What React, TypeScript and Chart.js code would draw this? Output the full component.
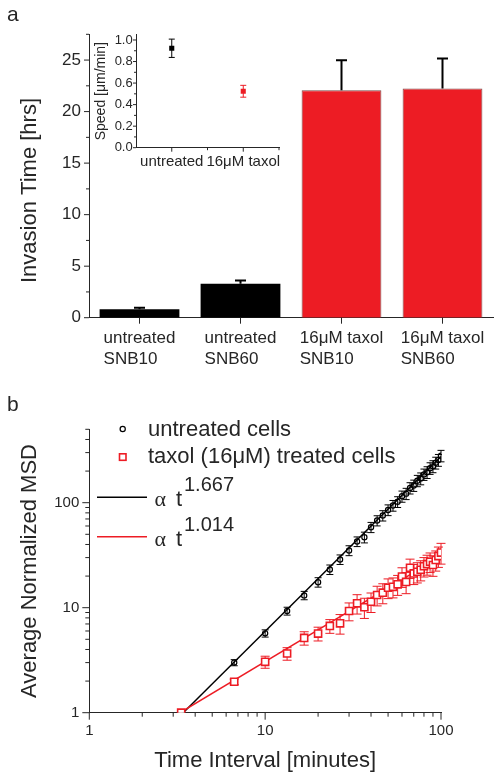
import React, { useEffect, useRef } from 'react';
import { Chart, registerables } from 'chart.js';

Chart.register(...registerables);

const SANS = '"Liberation Sans", Arial, Helvetica, sans-serif';
const SERIF = '"Liberation Serif", "Times New Roman", Times, serif';
const INK = '#262626';
const RED = '#ed1c24';

// ---------- panel a: invasion time ----------
const barLabels = [
  ['untreated', 'SNB10'],
  ['untreated', 'SNB60'],
  ['16μM taxol', 'SNB10'],
  ['16μM taxol', 'SNB60'],
];
const invasionHours = [0.81, 3.3, 22.06, 22.25];
const invasionErrUp = [0.16, 0.32, 2.91, 2.91];
const barColors = ['#000000', '#000000', RED, RED];
const barBorders = [0, 0, 1, 1];
const invasionTicks = [0, 5, 10, 15, 20, 25];
const invasionMinorTicks = [2.5, 7.5, 12.5, 17.5, 22.5, 27.5];

// ---------- inset: speed ----------
const insetLabels = ['untreated', '16μM taxol'];
const insetPositions = [1, 2];
const insetSpeed = [0.923, 0.524];
const insetSpeedErr = [0.085, 0.055];
const insetColors = ['#000000', RED];
const insetTicks = [0, 0.2, 0.4, 0.6, 0.8, 1.0];
const insetMinorTicks = [0.1, 0.3, 0.5, 0.7, 0.9];
const insetMinorX = [1.5, 2.5];

// ---------- panel b: MSD ----------
const timeInterval = [3.33, 6.67, 10, 13.33, 16.67, 20, 23.33, 26.67, 30, 33.33, 36.67, 40, 43.33, 46.67, 50, 53.33, 56.67, 60, 63.33, 66.67, 70, 73.33, 76.67, 80, 83.33, 86.67, 90, 93.33, 96.67, 100];
const untreatedMSD = [1.0, 3.0, 5.7, 9.3, 13.1, 17.5, 23.1, 28.8, 35.1, 42.7, 46.9, 58.4, 67.6, 75.4, 85.3, 94, 102, 115, 122, 138, 146, 162, 170, 186, 195, 213, 222, 240, 255, 280];
const untreatedErr = [0, 0.2, 0.45, 0.8, 1.2, 1.8, 2.4, 3.0, 3.8, 4.5, 5.5, 6.5, 7.5, 8.5, 10, 11, 12, 14, 15, 17, 18, 20, 22, 23, 25, 27, 29, 31, 33, 35];
const taxolMSD = [1.0, 1.97, 3.05, 3.66, 5.15, 5.67, 6.7, 7.1, 9.3, 11.0, 10.1, 11.4, 13.2, 13.9, 15.5, 15.8, 16.7, 19.8, 17.6, 24.0, 21.2, 22.0, 23.0, 24.8, 26.0, 27.4, 25.5, 28.5, 31.0, 33.5];
const taxolErr = [0, 0.12, 0.4, 0.5, 0.75, 0.85, 1.0, 1.5, 1.8, 2.3, 2.2, 2.4, 2.8, 3.0, 3.3, 3.4, 3.6, 4.2, 4.0, 5.0, 4.6, 4.8, 5.0, 5.2, 5.6, 5.8, 5.6, 6.2, 6.8, 7.5];
const fitTimeUntreated = [3.42, 100];
const fitUntreated = [1, 275];
const fitTimeTaxol = [3.28, 100];
const fitTaxol = [1, 31];
const logMajor = [1, 10, 100];
const xMinorB = [2, 3, 4, 5, 6, 7, 8, 9, 20, 30, 40, 50, 60, 70, 80, 90];
const yMinorB = [2, 3, 4, 5, 6, 7, 8, 9, 20, 30, 40, 50, 60, 70, 80, 90, 200, 300, 400, 500];

type AxisTicks = { axis: string; major: number[]; minor: number[]; majorLen: number; minorLen: number };

function tickPlugin(id: string, axes: AxisTicks[]) {
  return {
    id,
    afterDraw(chart: any) {
      const ctx = chart.ctx;
      ctx.save();
      ctx.strokeStyle = INK;
      ctx.lineWidth = 1;
      for (const a of axes) {
        const scale = chart.scales[a.axis];
        const draw = (vals: number[], len: number) => {
          for (const v of vals) {
            const p = scale.getPixelForValue(v);
            ctx.beginPath();
            if (scale.isHorizontal()) {
              ctx.moveTo(p, scale.top);
              ctx.lineTo(p, scale.top + len);
            } else {
              ctx.moveTo(scale.right, p);
              ctx.lineTo(scale.right - len, p);
            }
            ctx.stroke();
          }
        };
        draw(a.major, a.majorLen);
        draw(a.minor, a.minorLen);
      }
      ctx.restore();
    },
  };
}

function axisBase(size: number, padding: number) {
  return {
    grid: { display: false, drawTicks: false },
    border: { display: true, color: INK, width: 1 },
    ticks: {
      color: INK,
      font: { family: SANS, size },
      padding,
      autoSkip: false,
      maxRotation: 0,
      minRotation: 0,
    },
  };
}

function makePanelA(canvas: HTMLCanvasElement) {
  const errPlugin = {
    id: 'barErrors',
    afterDatasetsDraw(chart: any) {
      const ctx = chart.ctx;
      const y = chart.scales.y;
      const meta = chart.getDatasetMeta(0);
      ctx.save();
      ctx.strokeStyle = '#000';
      ctx.lineWidth = 2;
      meta.data.forEach((bar: any, i: number) => {
        const top = y.getPixelForValue(invasionHours[i] + invasionErrUp[i]);
        ctx.beginPath();
        ctx.moveTo(bar.x, bar.y);
        ctx.lineTo(bar.x, top);
        ctx.moveTo(bar.x - 5.5, top);
        ctx.lineTo(bar.x + 5.5, top);
        ctx.stroke();
      });
      ctx.restore();
    },
  };
  const textPlugin = {
    id: 'panelAText',
    afterDraw(chart: any) {
      const ctx = chart.ctx;
      const xs = chart.scales.x;
      ctx.save();
      ctx.fillStyle = INK;
      ctx.textAlign = 'left';
      ctx.textBaseline = 'alphabetic';
      ctx.font = `21px ${SANS}`;
      ctx.fillText('a', 7, 20.7);
      // category labels: two lines, left-aligned inside a block centred on the tick
      ctx.font = `17px ${SANS}`;
      barLabels.forEach((lines, i) => {
        const cx = xs.getPixelForValue(i);
        const w = Math.max(...lines.map((l) => ctx.measureText(l).width));
        const left = cx - w / 2;
        lines.forEach((l, j) => ctx.fillText(l, left, 343 + j * 21.2));
      });
      ctx.translate(30, 190.5);
      ctx.rotate(-Math.PI / 2);
      ctx.textAlign = 'center';
      ctx.textBaseline = 'middle';
      ctx.font = `22px ${SANS}`;
      ctx.fillText('Invasion Time [hrs]', 0, 0);
      ctx.restore();
    },
  };
  const xBase = axisBase(17, 8.9);
  const yBase = axisBase(17, 8);
  return new Chart(canvas, {
    type: 'bar',
    data: {
      labels: barLabels,
      datasets: [
        {
          data: invasionHours,
          backgroundColor: barColors,
          borderColor: '#7d4a47',
          borderWidth: barBorders,
          barPercentage: 0.79,
          categoryPercentage: 1,
        },
      ],
    },
    options: {
      responsive: false,
      animation: false,
      events: [],
      layout: { padding: { top: 34.3, right: 9, left: 0, bottom: 0 } },
      plugins: { legend: { display: false }, tooltip: { enabled: false } },
      scales: {
        x: {
          ...xBase,
          ticks: { ...xBase.ticks, display: false },
          afterFit: (s: any) => {
            s.height = 72.3;
          },
        },
        y: {
          ...yBase,
          min: 0,
          max: 27.5,
          afterBuildTicks: (s: any) => {
            s.ticks = invasionTicks.map((v) => ({ value: v }));
          },
          afterFit: (s: any) => {
            s.width = 89;
          },
        },
      },
    } as any,
    plugins: [
      errPlugin,
      textPlugin,
      tickPlugin('ticksA', [
        { axis: 'x', major: [0, 1, 2, 3], minor: [], majorLen: 6, minorLen: 0 },
        { axis: 'y', major: invasionTicks, minor: invasionMinorTicks, majorLen: 5, minorLen: 3 },
      ]),
    ],
  });
}

function makeInset(canvas: HTMLCanvasElement) {
  const errPlugin = {
    id: 'insetErrors',
    beforeDatasetsDraw(chart: any) {
      const ctx = chart.ctx;
      const xs = chart.scales.x;
      const ys = chart.scales.y;
      ctx.save();
      ctx.lineWidth = 1;
      insetPositions.forEach((p, i) => {
        const px = xs.getPixelForValue(p);
        const t = ys.getPixelForValue(insetSpeed[i] + insetSpeedErr[i]);
        const b = ys.getPixelForValue(insetSpeed[i] - insetSpeedErr[i]);
        ctx.strokeStyle = insetColors[i];
        ctx.beginPath();
        ctx.moveTo(px, t);
        ctx.lineTo(px, b);
        ctx.moveTo(px - 3, t);
        ctx.lineTo(px + 3, t);
        ctx.moveTo(px - 3, b);
        ctx.lineTo(px + 3, b);
        ctx.stroke();
      });
      ctx.restore();
    },
  };
  const xBase = axisBase(15, 4.8);
  const yBase = axisBase(13, 3.3);
  return new Chart(canvas, {
    type: 'scatter',
    data: {
      datasets: [
        {
          data: insetPositions.map((x, i) => ({ x, y: insetSpeed[i] })),
          pointStyle: 'rect',
          pointRadius: 3.6,
          backgroundColor: insetColors,
          borderColor: insetColors,
          borderWidth: 0,
        },
      ],
    },
    options: {
      responsive: false,
      animation: false,
      events: [],
      layout: { padding: { top: 19.6, right: 11, left: 0, bottom: 0 } },
      plugins: { legend: { display: false }, tooltip: { enabled: false } },
      scales: {
        x: {
          ...xBase,
          type: 'linear',
          min: 0.5,
          max: 2.5,
          ticks: {
            ...xBase.ticks,
            callback: (v: any) => {
              const k = insetPositions.indexOf(Number(v));
              return k >= 0 ? insetLabels[k] : '';
            },
          },
          afterBuildTicks: (s: any) => {
            s.ticks = insetPositions.map((v) => ({ value: v }));
          },
          afterFit: (s: any) => {
            s.height = 27.3;
          },
        },
        y: {
          ...yBase,
          min: 0,
          max: 1.05,
          ticks: { ...yBase.ticks, callback: (v: any) => Number(v).toFixed(1) },
          title: {
            display: true,
            text: 'Speed [μm/min]',
            color: INK,
            font: { family: SANS, size: 14 },
            padding: { top: 2.7, bottom: 0 },
          },
          afterBuildTicks: (s: any) => {
            s.ticks = insetTicks.map((v) => ({ value: v }));
          },
          afterFit: (s: any) => {
            s.width = 46;
          },
        },
      },
    } as any,
    plugins: [
      errPlugin,
      tickPlugin('ticksInset', [
        { axis: 'x', major: insetPositions, minor: insetMinorX, majorLen: 4, minorLen: 2.5 },
        { axis: 'y', major: insetTicks, minor: insetMinorTicks, majorLen: 3, minorLen: 2 },
      ]),
    ],
  });
}

function makePanelB(canvas: HTMLCanvasElement) {
  const specs = [
    { index: 0, y: taxolMSD, err: taxolErr, color: RED, half: 4.5 },
    { index: 1, y: untreatedMSD, err: untreatedErr, color: '#000000', half: 3.5 },
  ];
  const errPlugin = {
    id: 'msdErrors',
    beforeDatasetDraw(chart: any, args: any) {
      const spec = specs.find((s) => s.index === args.index);
      if (!spec) return;
      const ctx = chart.ctx;
      const xs = chart.scales.x;
      const ys = chart.scales.y;
      ctx.save();
      ctx.strokeStyle = spec.color;
      ctx.lineWidth = 1;
      timeInterval.forEach((t, i) => {
        if (!spec.err[i]) return;
        const px = xs.getPixelForValue(t);
        const top = ys.getPixelForValue(spec.y[i] + spec.err[i]);
        const bot = ys.getPixelForValue(Math.max(spec.y[i] - spec.err[i], 1));
        ctx.beginPath();
        ctx.moveTo(px, top);
        ctx.lineTo(px, bot);
        ctx.moveTo(px - spec.half, top);
        ctx.lineTo(px + spec.half, top);
        ctx.moveTo(px - spec.half, bot);
        ctx.lineTo(px + spec.half, bot);
        ctx.stroke();
      });
      ctx.restore();
    },
  };
  const textPlugin = {
    id: 'panelBText',
    afterDraw(chart: any) {
      const ctx = chart.ctx;
      ctx.save();
      ctx.fillStyle = INK;
      ctx.textAlign = 'left';
      ctx.textBaseline = 'alphabetic';
      ctx.font = `21px ${SANS}`;
      ctx.fillText('b', 7, 20.7);
      // legend symbols
      ctx.strokeStyle = '#000';
      ctx.lineWidth = 1.2;
      ctx.beginPath();
      ctx.arc(122.7, 39, 2.6, 0, Math.PI * 2);
      ctx.stroke();
      ctx.strokeStyle = RED;
      ctx.lineWidth = 1.6;
      ctx.strokeRect(119.5, 63.8, 6.5, 6.5);
      ctx.font = `22px ${SANS}`;
      ctx.fillText('untreated cells', 148, 46);
      ctx.fillText('taxol (16μM) treated cells', 148, 73.3);
      // fit legend
      ctx.lineWidth = 1.5;
      ctx.strokeStyle = '#000';
      ctx.beginPath();
      ctx.moveTo(97, 107.3);
      ctx.lineTo(147, 107.3);
      ctx.stroke();
      ctx.strokeStyle = RED;
      ctx.beginPath();
      ctx.moveTo(97, 146.7);
      ctx.lineTo(147, 146.7);
      ctx.stroke();
      const fitLabel = (exp: string, base: number) => {
        ctx.font = `22px ${SERIF}`;
        ctx.fillText('α', 154.5, base);
        ctx.font = `22px ${SANS}`;
        ctx.fillText('t', 176, base);
        ctx.font = `20px ${SANS}`;
        ctx.fillText(exp, 184, base - 15);
      };
      fitLabel('1.667', 115.7);
      fitLabel('1.014', 155.7);
      ctx.restore();
    },
  };
  const xBase = axisBase(15, 9.1);
  const yBase = axisBase(15, 10);
  return new Chart(canvas, {
    type: 'scatter',
    data: {
      datasets: [
        {
          data: timeInterval.map((x, i) => ({ x, y: taxolMSD[i] })),
          pointStyle: 'rect',
          pointRadius: 5,
          borderColor: RED,
          backgroundColor: '#ffffff',
          borderWidth: 1.6,
          order: 0,
        },
        {
          data: timeInterval.map((x, i) => ({ x, y: untreatedMSD[i] })),
          pointStyle: 'circle',
          pointRadius: 2.6,
          borderColor: '#000000',
          backgroundColor: 'rgba(255,255,255,0)',
          borderWidth: 1.2,
          order: 1,
        },
        {
          data: fitTimeTaxol.map((x, i) => ({ x, y: fitTaxol[i] })),
          showLine: true,
          pointRadius: 0,
          borderColor: RED,
          borderWidth: 1.5,
          order: 2,
        },
        {
          data: fitTimeUntreated.map((x, i) => ({ x, y: fitUntreated[i] })),
          showLine: true,
          pointRadius: 0,
          borderColor: '#000000',
          borderWidth: 1.5,
          order: 3,
        },
      ],
    },
    options: {
      responsive: false,
      animation: false,
      events: [],
      layout: { padding: { top: 39.3, right: 61, left: 0, bottom: 0 } },
      plugins: { legend: { display: false }, tooltip: { enabled: false } },
      scales: {
        x: {
          ...xBase,
          type: 'logarithmic',
          min: 1,
          max: 100,
          ticks: { ...xBase.ticks, callback: (v: any) => String(v) },
          title: {
            display: true,
            text: 'Time Interval [minutes]',
            color: INK,
            font: { family: SANS, size: 22 },
            padding: { top: 0, bottom: 6.4 },
          },
          afterBuildTicks: (s: any) => {
            s.ticks = logMajor.map((v) => ({ value: v }));
          },
          afterFit: (s: any) => {
            s.height = 68.3;
          },
        },
        y: {
          ...yBase,
          type: 'logarithmic',
          min: 1,
          max: 500,
          ticks: { ...yBase.ticks, callback: (v: any) => String(v) },
          title: {
            display: true,
            text: 'Average Normalized MSD',
            color: INK,
            font: { family: SANS, size: 22 },
            padding: { top: 16.7, bottom: 0 },
          },
          afterBuildTicks: (s: any) => {
            s.ticks = logMajor.map((v) => ({ value: v }));
          },
          afterFit: (s: any) => {
            s.width = 89.3;
          },
        },
      },
    } as any,
    plugins: [
      errPlugin,
      textPlugin,
      tickPlugin('ticksB', [
        { axis: 'x', major: logMajor, minor: xMinorB, majorLen: 7, minorLen: 4 },
        { axis: 'y', major: logMajor, minor: yMinorB, majorLen: 7, minorLen: 4 },
      ]),
    ],
  });
}

export default function App() {
  const aRef = useRef<HTMLCanvasElement>(null);
  const insetRef = useRef<HTMLCanvasElement>(null);
  const bRef = useRef<HTMLCanvasElement>(null);

  useEffect(() => {
    Chart.defaults.font.family = SANS;
    const charts = [
      makePanelA(aRef.current as HTMLCanvasElement),
      makeInset(insetRef.current as HTMLCanvasElement),
      makePanelB(bRef.current as HTMLCanvasElement),
    ];
    return () => charts.forEach((c) => c.destroy());
  }, []);

  return (
    <div style={{ position: 'absolute', left: 0, top: 0, width: 502, height: 781, background: '#ffffff' }}>
      <canvas ref={aRef} width={502} height={390} style={{ position: 'absolute', left: 0, top: 0 }} />
      <canvas ref={insetRef} width={200} height={160} style={{ position: 'absolute', left: 90, top: 15 }} />
      <canvas ref={bRef} width={502} height={391} style={{ position: 'absolute', left: 0, top: 390 }} />
    </div>
  );
}
